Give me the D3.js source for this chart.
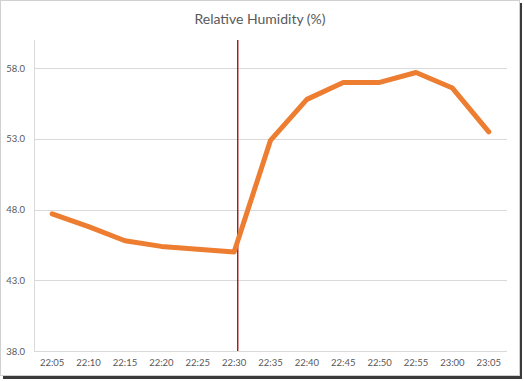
<!DOCTYPE html>
<html>
<head>
<meta charset="utf-8">
<script src="https://cdn.jsdelivr.net/npm/d3@7"></script>
<style>
  body { margin: 0; background: #fff; }
  text { font-family: Lato, "Open Sans", sans-serif; }
</style>
</head>
<body>
<div id="chart"></div>
<script>
const times = ["22:05", "22:10", "22:15", "22:20", "22:25", "22:30", "22:35",
  "22:40", "22:45", "22:50", "22:55", "23:00", "23:05"];
const humidity = [47.7, 46.8, 45.8, 45.4, 45.2, 45.0, 52.9, 55.8, 57.0, 57.0, 57.7, 56.6, 53.5];
const yTicks = [38, 43, 48, 53, 58];
const yDomain = [38, 60];
// vertical marker, in minutes after 22:05
const markerMinutes = 25.5;

const W = 524, H = 381;
const margin = { top: 40, right: 17, bottom: 30, left: 34 };

const svg = d3.select("#chart").append("svg")
  .attr("width", W).attr("height", H);

// frame with drop shadow
svg.append("rect").attr("x", 3).attr("y", 3).attr("width", 519).attr("height", 376)
  .attr("fill", "#3a3a3a");
svg.append("rect").attr("x", 0.5).attr("y", 0.5).attr("width", 519).attr("height", 375)
  .attr("fill", "#fff").attr("stroke", "#d0d0d0");

const x = d3.scaleBand().domain(times)
  .range([margin.left, W - margin.right]);
const y = d3.scaleLinear().domain(yDomain)
  .range([351, margin.top]);
const xMin = d3.scaleLinear().domain([0, 60])
  .range([x(times[0]) + x.bandwidth() / 2, x(times[12]) + x.bandwidth() / 2]);

// gridlines
svg.append("g")
  .selectAll("line").data(yTicks.slice(1)).join("line")
  .attr("x1", margin.left).attr("x2", W - margin.right)
  .attr("y1", d => Math.round(y(d)) + 0.5).attr("y2", d => Math.round(y(d)) + 0.5)
  .attr("stroke", "#d9d9d9");

// axes lines
svg.append("line")
  .attr("x1", margin.left + 0.5).attr("x2", margin.left + 0.5)
  .attr("y1", margin.top).attr("y2", y(38))
  .attr("stroke", "#d9d9d9");
svg.append("line")
  .attr("x1", margin.left).attr("x2", W - margin.right)
  .attr("y1", Math.round(y(38)) + 0.5).attr("y2", Math.round(y(38)) + 0.5)
  .attr("stroke", "#d9d9d9");

// y labels
svg.append("g")
  .selectAll("text").data(yTicks).join("text")
  .attr("x", 25).attr("y", d => y(d) + 3.5)
  .attr("text-anchor", "end")
  .attr("font-size", 9.5).attr("fill", "#595959")
  .text(d => d.toFixed(1));

// x labels
svg.append("g")
  .selectAll("text").data(times).join("text")
  .attr("x", d => x(d) + x.bandwidth() / 2).attr("y", 366)
  .attr("text-anchor", "middle")
  .attr("font-size", 9.5).attr("fill", "#595959")
  .text(d => d);

// marker line
svg.append("line")
  .attr("x1", xMin(markerMinutes)).attr("x2", xMin(markerMinutes))
  .attr("y1", margin.top).attr("y2", y(38))
  .attr("stroke", "#a50000").attr("stroke-width", 1.3);

// data line
const line = d3.line()
  .x((d, i) => x(times[i]) + x.bandwidth() / 2)
  .y(d => y(d));

svg.append("path").datum(humidity)
  .attr("d", line)
  .attr("fill", "none")
  .attr("stroke", "#ed7d31")
  .attr("stroke-width", 5)
  .attr("stroke-linecap", "round")
  .attr("stroke-linejoin", "round");

// title
svg.append("text")
  .attr("x", 260).attr("y", 24)
  .attr("text-anchor", "middle")
  .attr("font-size", 14).attr("fill", "#595959")
  .text("Relative Humidity (%)");
</script>
</body>
</html>
